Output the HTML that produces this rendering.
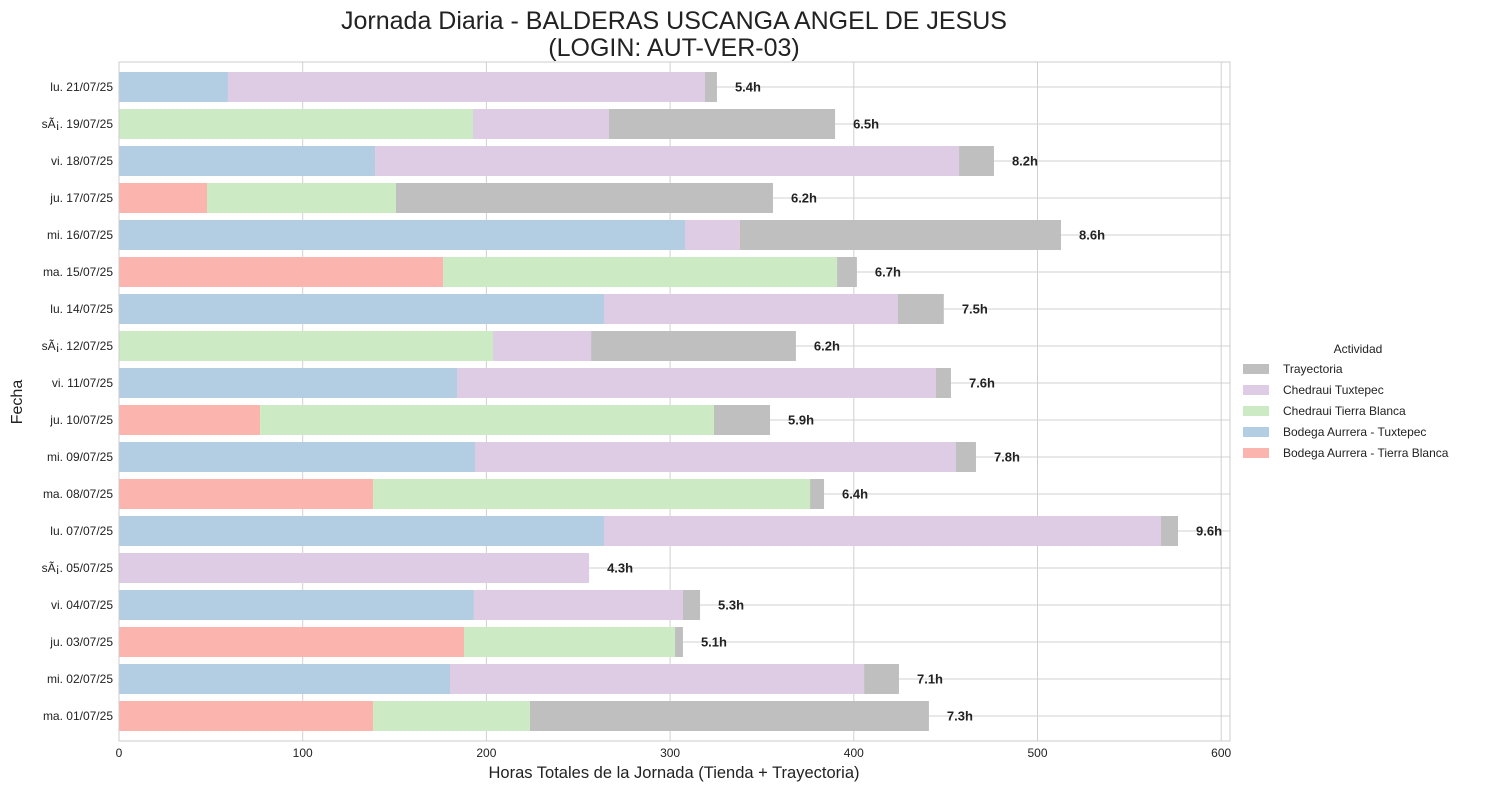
<!DOCTYPE html>
<html><head><meta charset="utf-8"><style>
body{margin:0;background:#fff;font-family:"Liberation Sans",sans-serif}
svg text{font-family:"Liberation Sans",sans-serif}
</style></head><body>
<svg id="c" width="1489" height="790" xmlns="http://www.w3.org/2000/svg"></svg>
<script>
const categories=["lu. 21/07/25","sÃ¡. 19/07/25","vi. 18/07/25","ju. 17/07/25","mi. 16/07/25","ma. 15/07/25","lu. 14/07/25","sÃ¡. 12/07/25","vi. 11/07/25","ju. 10/07/25","mi. 09/07/25","ma. 08/07/25","lu. 07/07/25","sÃ¡. 05/07/25","vi. 04/07/25","ju. 03/07/25","mi. 02/07/25","ma. 01/07/25"];
const bodegaTierraBlanca=[0,0,0,47.9,0,176.4,0,0,0,76.8,0,138.3,0,0,0,187.8,0,138.3];
const bodegaTuxtepec=[59.3,0,139.4,0,308.1,0,264,0,184,0,193.8,0,264,0,193.2,0,180.2,0];
const chedrauiTierraBlanca=[0,192.7,0,102.9,0,214.5,0,203.6,0,247.1,0,237.9,0,0,0,114.9,0,85.4];
const chedrauiTuxtepec=[259.7,74,317.9,0,29.9,0,160,53.4,260.7,0,261.8,0,303.2,255.9,113.8,0,225.4,0];
const trayectoria=[6.5,123.1,19,205.2,174.8,10.8,25,111.5,8.2,30.5,10.9,7.6,9.3,0,9.3,4.3,19,217.2];
const hourLabels=["5.4h","6.5h","8.2h","6.2h","8.6h","6.7h","7.5h","6.2h","7.6h","5.9h","7.8h","6.4h","9.6h","4.3h","5.3h","5.1h","7.1h","7.3h"];
const xTicks=[0,100,200,300,400,500,600];
const series=[["Bodega Aurrera - Tierra Blanca",bodegaTierraBlanca,"#fbb4ae"],["Bodega Aurrera - Tuxtepec",bodegaTuxtepec,"#b3cde3"],["Chedraui Tierra Blanca",chedrauiTierraBlanca,"#ccebc5"],["Chedraui Tuxtepec",chedrauiTuxtepec,"#decbe4"],["Trayectoria",trayectoria,"#bfbfbf"]];
const svg=document.getElementById('c');const NS="http://www.w3.org/2000/svg";
const L=119,T=62,R=1230,B=741;
const x=v=>L+v*1.837;
const y=i=>87+i*37;
function mk(t,a,txt){const e=document.createElementNS(NS,t);for(const k in a)e.setAttribute(k,a[k]);if(txt!=null)e.textContent=txt;svg.appendChild(e);return e;}
let e;
xTicks.forEach(v=>{e=mk('line',{x1:x(v),x2:x(v),y1:T,y2:B,stroke:'#d0d0d0','stroke-width':1});

e=mk('text',{x:x(v),y:B+16,'font-size':12,'text-anchor':'middle',fill:'#222'},v);
});
categories.forEach((c,i)=>{e=mk('line',{x1:L,x2:R,y1:y(i),y2:y(i),stroke:'#d0d0d0','stroke-width':1});

e=mk('text',{x:L-6,y:y(i)+4,'font-size':12,'text-anchor':'end',fill:'#222'},c);

let acc=0;series.forEach(s=>{const v=s[1][i];if(v>0){e=mk('rect',{x:x(acc),y:y(i)-15,width:x(acc+v)-x(acc),height:30,fill:s[2]});
}acc+=v;});
e=mk('text',{x:x(acc)+18,y:y(i)+4.5,'font-size':13,'font-weight':'bold',fill:'#222'},hourLabels[i]);
});
e=mk('rect',{x:L,y:T,width:R-L,height:B-T,fill:'none',stroke:'#cccccc'});

e=mk('text',{x:674,y:29,'font-size':25,'text-anchor':'middle',fill:'#222'},"Jornada Diaria - BALDERAS USCANGA ANGEL DE JESUS");

e=mk('text',{x:674,y:56,'font-size':25,'text-anchor':'middle',fill:'#222'},"(LOGIN: AUT-VER-03)");

e=mk('text',{x:674,y:778,'font-size':16.5,'text-anchor':'middle',fill:'#222'},"Horas Totales de la Jornada (Tienda + Trayectoria)");

e=mk('text',{x:22,y:402,'font-size':16,'text-anchor':'middle',fill:'#222',transform:'rotate(-90 22 402)'},"Fecha");

e=mk('text',{x:1358,y:353,'font-size':12,'text-anchor':'middle',fill:'#222'},"Actividad");

[4,3,2,1,0].forEach((si,k)=>{const s=series[si];const ly=369+k*21;
e=mk('rect',{x:1243,y:ly-5,width:26,height:10,fill:s[2]});

e=mk('text',{x:1283,y:ly+4,'font-size':12,fill:'#222'},s[0]);
});
</script>
</body></html>
